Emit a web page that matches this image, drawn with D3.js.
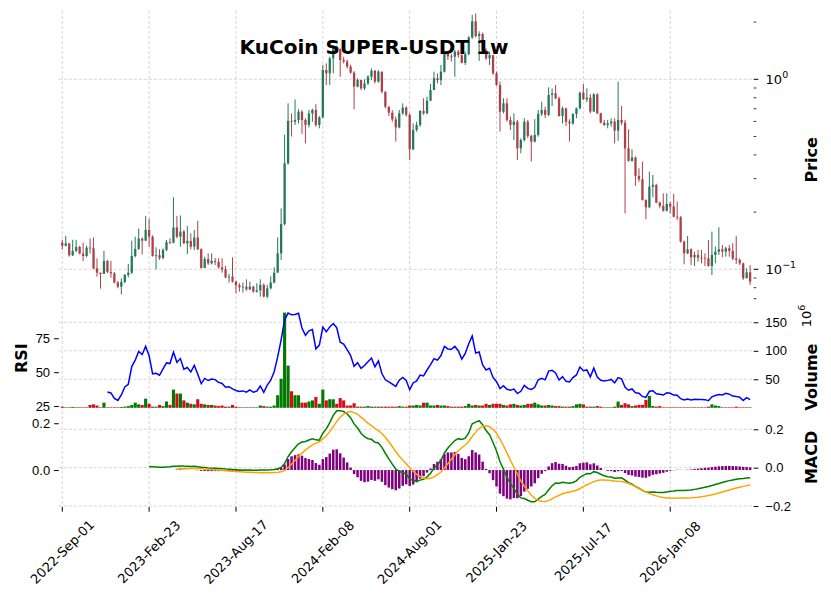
<!DOCTYPE html>
<html>
<head>
<meta charset="utf-8">
<title>KuCoin SUPER-USDT 1w</title>
<script src="https://d3js.org/d3.v7.min.js"></script>
<style>
  body { margin: 0; background: #fff; }
  svg { font-family: "DejaVu Sans", sans-serif; }
  .grid line { stroke: #c4c4c4; stroke-width: 0.7; stroke-dasharray: 3,2; }
  .axis text { font-size: 13px; fill: #000; }
  .axis path.domain { display: none; }
  .axis line { stroke: #000; stroke-width: 1; }
  .ylab { font-size: 16px; font-weight: bold; }
</style>
</head>
<body>
<svg id="chart" width="831" height="599"></svg>
<script>
// weekly candles starting 2022-09-01
const tickIdx = [0, 25, 50, 75, 100, 125, 150, 175];
const tickLabels = ["2022-Sep-01", "2023-Feb-23", "2023-Aug-17", "2024-Feb-08",
                    "2024-Aug-01", "2025-Jan-23", "2025-Jul-17", "2026-Jan-08"];

const open = [0.138,0.133,0.137,0.1185,0.125,0.131,0.121,0.1175,0.130,0.129,
0.101,0.096,0.0945,0.1106,0.0968,0.0953,0.0851,0.081,0.0858,0.0933,
0.096,0.1175,0.128,0.145,0.1415,0.161,0.1485,0.1175,0.1185,0.1147,
0.1264,0.139,0.138,0.166,0.1485,0.158,0.137,0.141,0.1316,0.147,
0.1274,0.1016,0.1133,0.1075,0.1106,0.1093,0.1024,0.0999,0.0907,0.0915,
0.0861,0.0824,0.0804,0.081,0.0784,0.081,0.0763,0.0775,0.0827,0.0718,
0.0794,0.0851,0.096,0.1213,0.173,0.361,0.605,0.598,0.611,0.675,
0.611,0.575,0.662,0.689,0.575,0.631,1.119,1.075,1.289,1.485,
1.44,1.264,1.24,1.166,1.084,0.915,0.992,0.896,0.952,1.032,
1.11,0.972,1.097,0.861,0.718,0.667,0.615,0.558,0.662,0.71,
0.65,0.428,0.541,0.575,0.681,0.662,0.771,0.878,1.012,0.99,
1.097,1.357,1.32,1.315,1.398,1.34,1.22,1.357,1.66,2.02,
1.69,1.73,1.426,1.289,1.34,1.075,0.933,0.675,0.747,0.611,
0.575,0.598,0.433,0.479,0.598,0.504,0.47,0.51,0.658,0.689,
0.65,0.828,0.844,0.794,0.641,0.703,0.598,0.586,0.657,0.703,
0.85,0.785,0.80,0.676,0.834,0.662,0.591,0.575,0.586,0.60,
0.537,0.611,0.591,0.433,0.372,0.388,0.31,0.2975,0.2316,0.212,
0.2723,0.278,0.2242,0.2154,0.2035,0.2207,0.214,0.189,0.1877,0.14,
0.1213,0.1274,0.1156,0.119,0.1151,0.115,0.1142,0.1041,0.119,0.1238,
0.1274,0.1238,0.129,0.125,0.1138,0.1119,0.1075,0.0897,0.0964];

const high = [0.143,0.150,0.137,0.143,0.143,0.133,0.138,0.133,0.1455,0.147,
0.114,0.096,0.125,0.112,0.1106,0.0968,0.0868,0.0897,0.0945,0.1067,
0.1415,0.1485,0.164,0.147,0.191,0.185,0.151,0.1305,0.1274,0.129,
0.1426,0.1455,0.239,0.191,0.192,0.161,0.169,0.1546,0.161,0.180,
0.129,0.1165,0.1213,0.1213,0.1147,0.1141,0.1141,0.1041,0.0945,0.1156,
0.0872,0.0844,0.0851,0.0886,0.0861,0.0817,0.0844,0.0886,0.0844,0.0827,
0.0919,0.1024,0.1473,0.209,0.51,0.747,0.662,0.784,0.695,0.689,
0.624,0.689,0.70,0.74,0.64,1.19,1.213,1.315,1.515,1.50,
1.455,1.315,1.27,1.19,1.103,1.012,0.99,1.0,1.053,1.14,
1.119,1.119,1.097,0.861,0.718,0.689,0.636,0.689,0.747,0.72,
0.662,0.586,0.598,0.689,0.794,0.81,0.944,1.097,1.075,1.19,
1.398,1.37,1.357,1.426,1.426,1.398,1.398,1.69,2.18,2.22,
1.79,1.76,1.455,1.398,1.33,1.097,0.972,0.794,0.794,0.636,
0.662,0.611,0.489,0.624,0.611,0.51,0.617,0.689,0.762,0.718,
0.908,0.896,0.933,0.81,0.718,0.709,0.616,0.662,0.71,0.86,
0.945,0.896,0.835,0.844,0.844,0.667,0.611,0.611,0.623,0.623,
0.972,0.724,0.611,0.545,0.428,0.392,0.34,0.3685,0.2335,0.3265,
0.3135,0.282,0.227,0.251,0.251,0.227,0.249,0.227,0.191,0.1415,
0.1497,0.129,0.1238,0.1264,0.1264,0.1213,0.1426,0.1578,0.1316,0.1665,
0.1343,0.1316,0.1343,0.137,0.1497,0.1142,0.1084,0.1012,0.1053];

const low = [0.127,0.132,0.1165,0.1175,0.123,0.120,0.1106,0.1156,0.121,0.100,
0.0915,0.079,0.0945,0.0953,0.0904,0.0844,0.0794,0.0738,0.0844,0.0907,
0.0945,0.1156,0.1264,0.120,0.141,0.1316,0.1165,0.100,0.112,0.113,
0.1244,0.136,0.137,0.1455,0.1316,0.136,0.120,0.1274,0.1264,0.1264,
0.1008,0.1024,0.1053,0.106,0.1053,0.1008,0.096,0.0897,0.0851,0.0851,
0.0747,0.0763,0.0753,0.0772,0.0778,0.0753,0.0753,0.0718,0.0712,0.0704,
0.0784,0.0844,0.096,0.112,0.170,0.355,0.499,0.575,0.586,0.516,
0.460,0.558,0.598,0.563,0.552,0.624,0.933,0.933,1.075,1.385,
1.032,1.213,1.14,1.07,0.695,0.908,0.878,0.878,0.933,0.99,
0.952,0.96,0.844,0.703,0.641,0.598,0.47,0.552,0.65,0.636,
0.376,0.4245,0.53,0.563,0.65,0.655,0.77,0.878,0.952,0.933,
1.086,1.264,1.24,1.032,1.30,1.213,1.19,1.34,1.63,1.66,
1.25,1.398,1.264,1.19,1.053,0.924,0.53,0.662,0.598,0.541,
0.479,0.376,0.408,0.47,0.49,0.369,0.465,0.499,0.64,0.624,
0.64,0.724,0.785,0.636,0.586,0.568,0.47,0.575,0.623,0.695,
0.78,0.76,0.662,0.676,0.657,0.586,0.568,0.552,0.563,0.46,
0.475,0.575,0.197,0.3685,0.3685,0.2745,0.289,0.23,0.1832,0.2094,
0.2392,0.2225,0.2094,0.201,0.201,0.197,0.1877,0.1818,0.138,0.1062,
0.1203,0.1053,0.1041,0.1097,0.1075,0.1041,0.1032,0.0933,0.1075,0.119,
0.1156,0.1165,0.1165,0.1119,0.1066,0.1053,0.0879,0.0897,0.0827];

const close = [0.133,0.137,0.1185,0.125,0.131,0.121,0.1175,0.130,0.129,0.101,
0.096,0.0945,0.1106,0.0968,0.0953,0.0851,0.081,0.0858,0.0933,0.096,
0.1175,0.128,0.145,0.1415,0.161,0.1485,0.1175,0.1185,0.1147,0.1264,
0.139,0.138,0.166,0.1485,0.158,0.137,0.141,0.1316,0.147,0.1274,
0.1016,0.1133,0.1075,0.1106,0.1093,0.1024,0.0999,0.0907,0.0915,0.0861,
0.0824,0.0804,0.081,0.0784,0.081,0.0763,0.0775,0.0827,0.0718,0.0794,
0.0851,0.096,0.1213,0.173,0.361,0.605,0.598,0.611,0.675,0.611,
0.575,0.662,0.689,0.575,0.631,1.119,1.075,1.289,1.485,1.44,
1.264,1.24,1.166,1.084,0.915,0.992,0.896,0.952,1.032,1.11,
0.972,1.097,0.861,0.718,0.667,0.615,0.558,0.662,0.71,0.65,
0.428,0.541,0.575,0.681,0.662,0.771,0.878,1.012,0.99,1.097,
1.357,1.32,1.315,1.398,1.34,1.22,1.357,1.66,2.02,1.69,
1.73,1.426,1.289,1.34,1.075,0.933,0.675,0.747,0.611,0.575,
0.598,0.433,0.479,0.598,0.504,0.47,0.51,0.658,0.689,0.65,
0.828,0.844,0.794,0.641,0.703,0.598,0.586,0.657,0.703,0.85,
0.785,0.80,0.676,0.834,0.662,0.591,0.575,0.586,0.60,0.537,
0.611,0.591,0.433,0.372,0.388,0.31,0.2975,0.2316,0.212,0.2723,
0.278,0.2242,0.2154,0.2035,0.2207,0.214,0.189,0.1877,0.14,0.1213,
0.1274,0.1156,0.119,0.1151,0.115,0.1142,0.1041,0.119,0.1238,0.1274,
0.1238,0.129,0.125,0.1138,0.1119,0.1075,0.0897,0.0964,0.0861];

// volume in millions
const volumeM = [2,1,1,1.5,1,1,1,1,5,6,
4,1,9,1,1,1,1,1.5,2,3,
5,9,6,5,16,7,2,2,5,3,
11,5,32,25,25,13,9,7,6,15,
7,6,5,5,4,3,4,2,2,5,
2,1,1,1,1,1,1,4,3,2,
2,4,22,51,167,74,29,22,22,9,
9,11,13,19,7,32,13,15,15,7,
17,13,4,4,8,2,2,2,3,2,
2,2,2,2,2,2,2,3,2,2,
4,4,5,4,9,9,4,4,5,4,
4,3,2,2,2,2,3,7,4,5,
4,4,7,5,7,7,7,5,4,6,
7,5,4,5,7,7,9,6,4,4,
5,4,3,3,2,2,2,3,6,7,
6,2,2,2,3,2,1,1,1,2,
11,5,8,6,3,4,5,5,14,21,
3,2,3,1,1,1,1,1,1,1,
1,1,1,1,1,1,2,6,4,3,
1,1,1,1,2,1,1,1,1];

const rsiTicks = [25, 50, 75];
const volTicks = [50, 100, 150];
const macdLeftTicks = [0.0, 0.2];
const macdRightTicks = [-0.2, 0.0, 0.2];
const priceMajor = [0.1, 1];
const priceMinor = [0.07, 0.08, 0.09, 0.2, 0.3, 0.4, 0.5, 0.6, 0.7, 0.8, 0.9, 2];

// ---- indicators (same as ta lib: wilder rsi, macd 12/26/9) ----
function ema(arr, span, minP) {
  const a = 2 / (span + 1);
  let prev = null, cnt = 0;
  return arr.map(v => {
    if (v == null) return null;
    prev = prev == null ? v : a * v + (1 - a) * prev;
    cnt++;
    return cnt >= minP ? prev : null;
  });
}
function rsiCalc(c, w) {
  const a = 1 / w;
  let up = 0, dn = 0;
  return c.map((v, i) => {
    const d = i === 0 ? 0 : v - c[i - 1];
    const u = d > 0 ? d : 0, l = d < 0 ? -d : 0;
    if (i === 0) { up = u; dn = l; } else { up = a * u + (1 - a) * up; dn = a * l + (1 - a) * dn; }
    if (i < w - 1) return null;
    return dn === 0 ? 100 : 100 - 100 / (1 + up / dn);
  });
}
const e12 = ema(close, 12, 12), e26 = ema(close, 26, 26);
const macd = close.map((_, i) => (e12[i] != null && e26[i] != null) ? e12[i] - e26[i] : null);
const signal = ema(macd, 9, 9);
const hist = macd.map((m, i) => (m != null && signal[i] != null) ? m - signal[i] : null);
const rsi = rsiCalc(close, 14);

// ---- layout ----
const svg = d3.select("#chart");
const n = close.length;
const X0 = 58.8, X1 = 753.6;
const P = {top: 11, bot: 308.6}, V = {top: 308.6, bot: 407.8}, M = {top: 407.8, bot: 507};

const x = d3.scaleLinear().domain([-1, n]).range([X0, X1]);
const yP = d3.scaleLog().domain([0.0621, 2.288]).range([P.bot, P.top]);
const yV = d3.scaleLinear().domain([0, 174]).range([V.bot, V.top]);
const yR = d3.scaleLinear().domain([23.7, 96.9]).range([V.bot, V.top]);
// left: signal + histogram, right: macd line
const yML = d3.scaleLinear().domain([-0.158, 0.266]).range([M.bot, M.top]);
const yMR = d3.scaleLinear().domain([-0.205, 0.312]).range([M.bot, M.top]);
const step = x(1) - x(0);

// grid
const grid = svg.append("g").attr("class", "grid");
tickIdx.forEach(i => grid.append("line")
  .attr("x1", x(i)).attr("x2", x(i)).attr("y1", P.top).attr("y2", M.bot));
priceMajor.forEach(p => grid.append("line")
  .attr("x1", X0).attr("x2", X1).attr("y1", yP(p)).attr("y2", yP(p)));
volTicks.forEach(v => grid.append("line")
  .attr("x1", X0).attr("x2", X1).attr("y1", yV(v)).attr("y2", yV(v)));
macdRightTicks.forEach(v => grid.append("line")
  .attr("x1", X0).attr("x2", X1).attr("y1", yMR(v)).attr("y2", yMR(v)));

// candles
const upC = "#006340", dnC = "#A02128";
const idx = d3.range(n);
const cg = svg.append("g").attr("opacity", 0.85);
cg.selectAll("line.wick").data(idx).join("line")
  .attr("class", "wick")
  .attr("x1", i => x(i)).attr("x2", i => x(i))
  .attr("y1", i => yP(Math.max(high[i], open[i], close[i])))
  .attr("y2", i => yP(Math.min(low[i], open[i], close[i])))
  .attr("stroke", i => close[i] >= open[i] ? upC : dnC)
  .attr("stroke-width", 1);
cg.selectAll("rect.body").data(idx).join("rect")
  .attr("class", "body")
  .attr("x", i => x(i) - step * 0.33)
  .attr("width", step * 0.66)
  .attr("y", i => yP(Math.max(open[i], close[i])))
  .attr("height", i => Math.max(0.8, yP(Math.min(open[i], close[i])) - yP(Math.max(open[i], close[i]))))
  .attr("fill", i => close[i] >= open[i] ? upC : dnC);

// volume bars
svg.append("g").selectAll("rect").data(idx).join("rect")
  .attr("x", i => x(i) - step * 0.45)
  .attr("width", step * 0.9)
  .attr("y", i => yV(volumeM[i]))
  .attr("height", i => yV(0) - yV(volumeM[i]))
  .attr("fill", i => close[i] >= open[i] ? "#007a00" : "#d50d18");

// rsi line
const rsiLine = d3.line().defined(d => d[1] != null).x(d => x(d[0])).y(d => yR(d[1]));
svg.append("path").datum(rsi.map((v, i) => [i, v]))
  .attr("d", rsiLine).attr("fill", "none").attr("stroke", "#0000ff").attr("stroke-width", 1.5);

// macd histogram (left scale)
svg.append("g").selectAll("rect").data(idx.filter(i => hist[i] != null)).join("rect")
  .attr("x", i => x(i) - step * 0.36)
  .attr("width", step * 0.72)
  .attr("y", i => Math.min(yML(hist[i]), yML(0)))
  .attr("height", i => Math.abs(yML(hist[i]) - yML(0)))
  .attr("fill", "#800080");

// macd line (right scale), signal line (left scale)
const mLineR = d3.line().defined(d => d[1] != null).x(d => x(d[0])).y(d => yMR(d[1]));
const mLineL = d3.line().defined(d => d[1] != null).x(d => x(d[0])).y(d => yML(d[1]));
svg.append("path").datum(macd.map((v, i) => [i, v]))
  .attr("d", mLineR).attr("fill", "none").attr("stroke", "#008000").attr("stroke-width", 1.5);
svg.append("path").datum(signal.map((v, i) => [i, v]))
  .attr("d", mLineL).attr("fill", "none").attr("stroke", "#ffa500").attr("stroke-width", 1.5);

// ---- axes ----
const TL = 4.7;
// price (right, log)
const pa = svg.append("g").attr("class", "axis");
priceMajor.forEach((p, k) => {
  pa.append("line").attr("x1", X1).attr("x2", X1 + TL).attr("y1", yP(p)).attr("y2", yP(p));
  const t = pa.append("text").attr("x", X1 + 12).attr("y", yP(p) + 5);
  t.append("tspan").text("10");
  t.append("tspan").attr("dy", -6).attr("font-size", "9.5px").text(k === 0 ? "\u22121" : "0");
});
priceMinor.forEach(p => pa.append("line").attr("x1", X1).attr("x2", X1 + 2.7)
  .attr("y1", yP(p)).attr("y2", yP(p)).style("stroke-width", 0.8));

// volume right
svg.append("g").attr("class", "axis").attr("transform", `translate(${X1},0)`)
  .call(d3.axisRight(yV).tickValues(volTicks).tickSize(TL).tickPadding(7).tickFormat(d3.format("d")));
const off = svg.append("text").attr("transform", "translate(811,316) rotate(-90)")
  .attr("text-anchor", "middle").style("font-size", "13px");
off.append("tspan").text("10");
off.append("tspan").attr("dy", -6).attr("font-size", "9.5px").text("6");

// rsi left
svg.append("g").attr("class", "axis").attr("transform", `translate(${X0},0)`)
  .call(d3.axisLeft(yR).tickValues(rsiTicks).tickSize(TL).tickPadding(4).tickFormat(d3.format("d")));

// macd left & right
svg.append("g").attr("class", "axis").attr("transform", `translate(${X0},0)`)
  .call(d3.axisLeft(yML).tickValues(macdLeftTicks).tickSize(TL).tickPadding(4).tickFormat(d3.format(".1f")));
svg.append("g").attr("class", "axis").attr("transform", `translate(${X1},0)`)
  .call(d3.axisRight(yMR).tickValues(macdRightTicks).tickSize(TL).tickPadding(7)
    .tickFormat(d => d3.format(".1f")(d).replace("-", "\u2212")));

// x axis
const xa = svg.append("g").attr("class", "axis");
tickIdx.forEach((i, k) => {
  xa.append("line").attr("x1", x(i)).attr("x2", x(i)).attr("y1", M.bot).attr("y2", M.bot + TL);
  xa.append("text").attr("transform", `translate(${x(i)},552) rotate(-45)`)
    .attr("text-anchor", "middle").attr("dominant-baseline", "central").text(tickLabels[k]);
});

// labels
svg.append("text").attr("class", "ylab").attr("transform", `translate(817,${(P.top + P.bot) / 2}) rotate(-90)`)
  .attr("text-anchor", "middle").text("Price");
svg.append("text").attr("class", "ylab").attr("transform", `translate(817,377) rotate(-90)`)
  .attr("text-anchor", "middle").text("Volume");
svg.append("text").attr("class", "ylab").attr("transform", `translate(817,${(M.top + M.bot) / 2}) rotate(-90)`)
  .attr("text-anchor", "middle").text("MACD");
svg.append("text").attr("class", "ylab").attr("transform", `translate(27,${(V.top + V.bot) / 2}) rotate(-90)`)
  .attr("text-anchor", "middle").text("RSI");

svg.append("text").attr("x", 374).attr("y", 54).attr("text-anchor", "middle")
  .style("font-size", "20px").style("font-weight", "bold").text("KuCoin SUPER-USDT 1w");
</script>
</body>
</html>
